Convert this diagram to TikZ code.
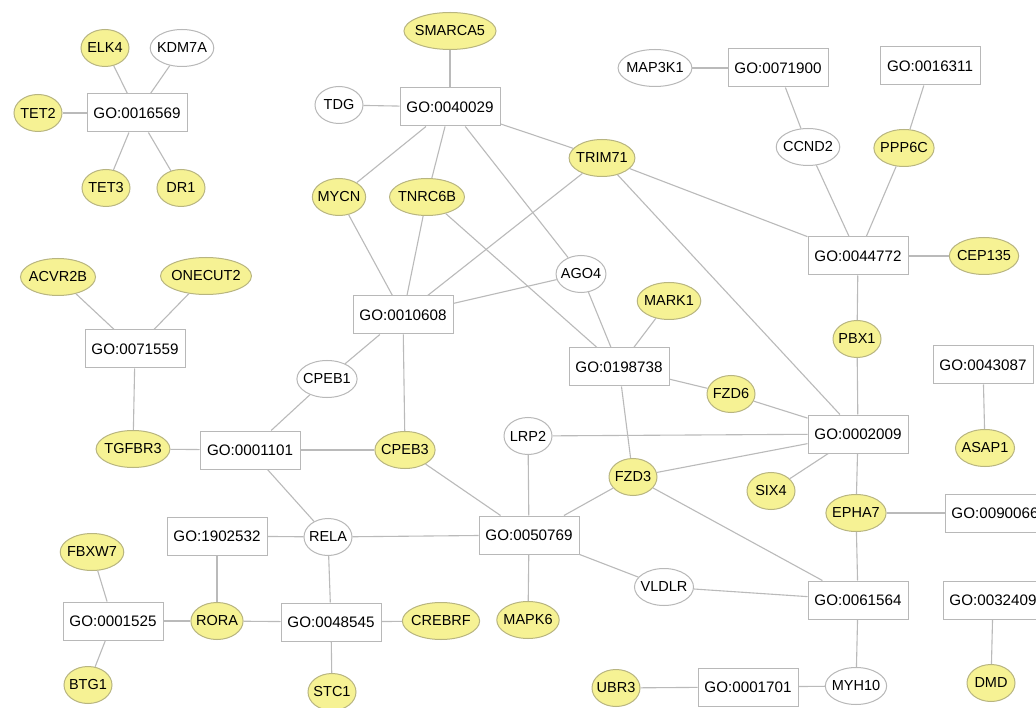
\documentclass[tikz,border=0pt]{standalone}
\usepackage{fontspec}
\setmainfont{Liberation Sans}
\usetikzlibrary{shapes.geometric}

\newlength{\du}
\setlength{\du}{1pt}

\definecolor{genefill}{rgb}{0.965, 0.950, 0.580}
\definecolor{geneline}{rgb}{0.720, 0.710, 0.500}
\definecolor{boxline}{rgb}{0.720, 0.720, 0.720}
\definecolor{edgeline}{rgb}{0.730, 0.730, 0.730}

\tikzset{
  goterm/.style={draw=boxline, line width=1\du, fill=white, inner sep=0pt,
    minimum width=100\du, minimum height=38\du,
    font=\fontsize{15.2\du}{17\du}\selectfont},
  gene/.style={ellipse, draw=geneline, line width=1\du, fill=genefill,
    inner xsep=-2.5\du, inner ysep=0pt, minimum width=48\du, minimum height=37\du,
    font=\fontsize{14.5\du}{16\du}\selectfont},
  plaingene/.style={gene, draw=boxline, fill=white},
  link/.style={draw=edgeline, line width=1.1\du}
}

\begin{document}
\begin{tikzpicture}
\pgftransformyscale{-1.000000}
\clip (0\du,0\du) rectangle (1036\du,708\du);
\fill[white] (0\du,0\du) rectangle (1036\du,708\du);

% GO terms
\node[goterm] (go16569) at (137\du,113\du) {GO:0016569};
\node[goterm] (go71559) at (135\du,349\du) {GO:0071559};
\node[goterm] (go40029) at (450\du,107\du) {GO:0040029};
\node[goterm] (go10608) at (403\du,315\du) {GO:0010608};
\node[goterm] (go198738) at (619\du,367\du) {GO:0198738};
\node[goterm] (go1101) at (250\du,450\du) {GO:0001101};
\node[goterm] (go71900) at (778\du,68\du) {GO:0071900};
\node[goterm] (go16311) at (930\du,66\du) {GO:0016311};
\node[goterm] (go44772) at (858\du,256\du) {GO:0044772};
\node[goterm] (go2009) at (858\du,434\du) {GO:0002009};
\node[goterm] (go43087) at (983\du,365\du) {GO:0043087};
\node[goterm] (go90066) at (995\du,513\du) {GO:0090066};
\node[goterm] (go50769) at (529\du,535\du) {GO:0050769};
\node[goterm] (go61564) at (858\du,600\du) {GO:0061564};
\node[goterm] (go32409) at (993\du,600\du) {GO:0032409};
\node[goterm] (go1701) at (748\du,687\du) {GO:0001701};
\node[goterm] (go1902532) at (217\du,536\du) {GO:1902532};
\node[goterm] (go1525) at (113\du,621\du) {GO:0001525};
\node[goterm] (go48545) at (331\du,622\du) {GO:0048545};

% genes
\node[gene] (elk4) at (105\du,48\du) {ELK4};
\node[plaingene] (kdm7a) at (182\du,48\du) {KDM7A};
\node[gene] (tet2) at (38\du,113\du) {TET2};
\node[gene] (tet3) at (106\du,188\du) {TET3};
\node[gene] (dr1) at (181\du,188\du) {DR1};
\node[gene] (acvr2b) at (58\du,277\du) {ACVR2B};
\node[gene] (onecut2) at (206\du,276\du) {ONECUT2};
\node[gene] (tgfbr3) at (133\du,449\du) {TGFBR3};
\node[gene] (smarca5) at (450\du,31\du) {SMARCA5};
\node[plaingene] (tdg) at (339\du,105\du) {TDG};
\node[gene] (mycn) at (339\du,197\du) {MYCN};
\node[gene] (tnrc6b) at (427\du,197\du) {TNRC6B};
\node[gene] (trim71) at (602\du,158\du) {TRIM71};
\node[plaingene] (ago4) at (581\du,274\du) {AGO4};
\node[gene] (mark1) at (669\du,301\du) {MARK1};
\node[plaingene] (cpeb1) at (327\du,379\du) {CPEB1};
\node[gene] (cpeb3) at (405\du,450\du) {CPEB3};
\node[plaingene] (lrp2) at (528\du,436\du) {LRP2};
\node[gene] (fzd3) at (633\du,477\du) {FZD3};
\node[gene] (fzd6) at (731\du,394\du) {FZD6};
\node[gene] (six4) at (771\du,491\du) {SIX4};
\node[gene] (pbx1) at (857\du,339\du) {PBX1};
\node[gene] (cep135) at (984\du,256\du) {CEP135};
\node[plaingene] (ccnd2) at (808\du,147\du) {CCND2};
\node[gene] (ppp6c) at (904\du,148\du) {PPP6C};
\node[plaingene] (map3k1) at (655\du,68\du) {MAP3K1};
\node[gene] (asap1) at (985\du,448\du) {ASAP1};
\node[gene] (epha7) at (856\du,513\du) {EPHA7};
\node[plaingene] (vldlr) at (664\du,587\du) {VLDLR};
\node[gene] (mapk6) at (528\du,620\du) {MAPK6};
\node[gene] (dmd) at (991\du,683\du) {DMD};
\node[plaingene] (myh10) at (856\du,686\du) {MYH10};
\node[gene] (ubr3) at (616\du,688\du) {UBR3};
\node[plaingene] (rela) at (328\du,537\du) {RELA};
\node[gene] (fbxw7) at (92\du,552\du) {FBXW7};
\node[gene] (btg1) at (88\du,685\du) {BTG1};
\node[gene] (rora) at (217\du,621\du) {RORA};
\node[gene] (crebrf) at (441\du,621\du) {CREBRF};
\node[gene] (stc1) at (332\du,692\du) {STC1};

% links
\draw[link] (go16569) -- (elk4);
\draw[link] (go16569) -- (kdm7a);
\draw[link] (go16569) -- (tet2);
\draw[link] (go16569) -- (tet3);
\draw[link] (go16569) -- (dr1);
\draw[link] (go71559) -- (acvr2b);
\draw[link] (go71559) -- (onecut2);
\draw[link] (go71559) -- (tgfbr3);
\draw[link] (tgfbr3) -- (go1101);
\draw[link] (go40029) -- (smarca5);
\draw[link] (go40029) -- (tdg);
\draw[link] (go40029) -- (mycn);
\draw[link] (go40029) -- (tnrc6b);
\draw[link] (go40029) -- (ago4);
\draw[link] (go40029) -- (trim71);
\draw[link] (go10608) -- (mycn);
\draw[link] (go10608) -- (tnrc6b);
\draw[link] (go10608) -- (trim71);
\draw[link] (go10608) -- (ago4);
\draw[link] (go10608) -- (cpeb1);
\draw[link] (go10608) -- (cpeb3);
\draw[link] (tnrc6b) -- (go198738);
\draw[link] (ago4) -- (go198738);
\draw[link] (mark1) -- (go198738);
\draw[link] (go198738) -- (fzd6);
\draw[link] (go198738) -- (fzd3);
\draw[link] (trim71) -- (go44772);
\draw[link] (trim71) -- (go2009);
\draw[link] (go44772) -- (ccnd2);
\draw[link] (go44772) -- (ppp6c);
\draw[link] (go44772) -- (cep135);
\draw[link] (go44772) -- (pbx1);
\draw[link] (go71900) -- (map3k1);
\draw[link] (go71900) -- (ccnd2);
\draw[link] (go16311) -- (ppp6c);
\draw[link] (pbx1) -- (go2009);
\draw[link] (go2009) -- (fzd6);
\draw[link] (go2009) -- (lrp2);
\draw[link] (go2009) -- (fzd3);
\draw[link] (go2009) -- (six4);
\draw[link] (go2009) -- (epha7);
\draw[link] (go43087) -- (asap1);
\draw[link] (epha7) -- (go90066);
\draw[link] (epha7) -- (go61564);
\draw[link] (go1101) -- (cpeb1);
\draw[link] (go1101) -- (cpeb3);
\draw[link] (go1101) -- (rela);
\draw[link] (cpeb3) -- (go50769);
\draw[link] (go50769) -- (rela);
\draw[link] (go50769) -- (lrp2);
\draw[link] (go50769) -- (fzd3);
\draw[link] (go50769) -- (mapk6);
\draw[link] (go50769) -- (vldlr);
\draw[link] (fzd3) -- (go61564);
\draw[link] (vldlr) -- (go61564);
\draw[link] (go61564) -- (myh10);
\draw[link] (myh10) -- (go1701);
\draw[link] (go1701) -- (ubr3);
\draw[link] (go32409) -- (dmd);
\draw[link] (go1902532) -- (rela);
\draw[link] (go1902532) -- (rora);
\draw[link] (rela) -- (go48545);
\draw[link] (go48545) -- (rora);
\draw[link] (go48545) -- (crebrf);
\draw[link] (go48545) -- (stc1);
\draw[link] (go1525) -- (fbxw7);
\draw[link] (go1525) -- (btg1);
\draw[link] (go1525) -- (rora);
\end{tikzpicture}
\end{document}
